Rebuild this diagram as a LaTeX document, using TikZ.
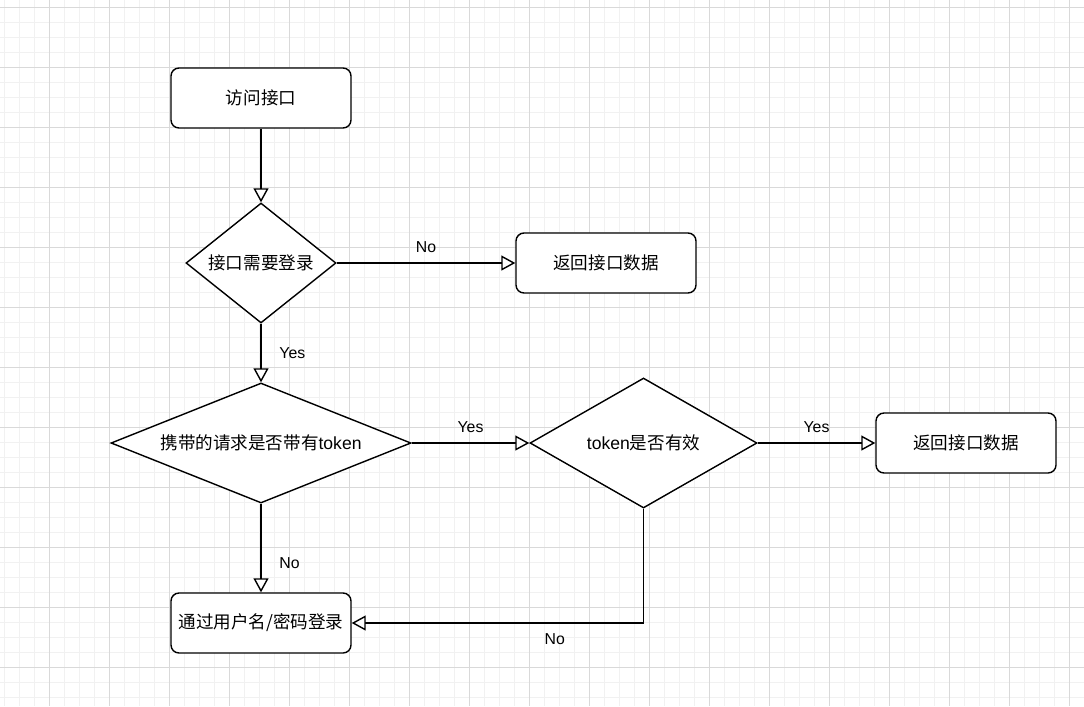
\documentclass[tikz,border=0pt]{standalone}
\usepackage{fontspec}
\setmainfont{Liberation Sans}
\newfontfamily\cjk{Noto Sans CJK SC}
\usetikzlibrary{shapes.geometric,arrows.meta}

\definecolor{minorgrid}{HTML}{F1F1F1}
\definecolor{majorgrid}{HTML}{D9D9D9}

\tikzset{
    procbox/.style={draw, line width=0.8pt, rounded corners=1.6mm, fill=white,
        minimum width=36mm, minimum height=12mm, inner sep=0pt,
        font=\fontsize{10}{12}\selectfont\cjk},
    decision/.style={draw, diamond, line width=0.8pt, fill=white, inner sep=0pt,
        font=\fontsize{10}{12}\selectfont},
    flow/.style={line width=0.8pt,
        -{Triangle[fill=white, length=2.8mm, width=3mm]}},
    edgelabel/.style={font=\fontsize{9}{11}\selectfont, inner sep=1pt},
}

\begin{document}
\begin{tikzpicture}[x=0.2mm, y=-0.2mm]
    \useasboundingbox (0,0) rectangle (1084,706);
    % Grid
    \fill[white] (0,0) rectangle (1084,706);
    \foreach \gx in {4,19,...,1084} \draw[minorgrid, line width=0.5pt] (\gx,0) -- (\gx,706);
    \foreach \gy in {7,22,...,697} \draw[minorgrid, line width=0.5pt] (0,\gy) -- (1084,\gy);
    \foreach \gx in {49,109,...,1069} \draw[majorgrid, line width=0.5pt] (\gx,0) -- (\gx,706);
    \foreach \gy in {7,67,...,667} \draw[majorgrid, line width=0.5pt] (0,\gy) -- (1084,\gy);

    % Steps and decisions
    \node[procbox] (visit) at (261,98) {访问接口};
    \node[decision, shape aspect=1.25, minimum width=30mm, minimum height=24mm]
        (needlogin) at (261,263) {{\cjk 接口需要登录}};
    \node[procbox] (retdata) at (606,263) {返回接口数据};
    \node[decision, shape aspect=2.5, minimum width=60mm, minimum height=24mm]
        (hastoken) at (261,443) {{\cjk 携带的请求是否带有}token};
    \node[decision, shape aspect=1.75, minimum width=45.4mm, minimum height=26mm]
        (tokenvalid) at (643.5,443) {token{\cjk 是否有效}};
    \node[procbox] (retdata2) at (966,443) {返回接口数据};
    \node[procbox] (pwdlogin) at (261,623) {通过用户名/密码登录};

    % Connectors
    \draw[flow] (visit) -- (needlogin);
    \draw[flow] (needlogin) -- node[edgelabel, above=1.6mm] {No} (retdata);
    \draw[flow] (needlogin) -- node[edgelabel, right=3.2mm] {Yes} (hastoken);
    \draw[flow] (hastoken) -- node[edgelabel, above=1.6mm] {Yes} (tokenvalid);
    \draw[flow] (tokenvalid) -- node[edgelabel, above=1.6mm] {Yes} (retdata2);
    \draw[flow] (hastoken) -- node[edgelabel, pos=0.67, right=3.2mm] {No} (pwdlogin);
    \draw[flow] (tokenvalid) |- node[edgelabel, pos=0.652, below=1.6mm] {No} (pwdlogin);
\end{tikzpicture}
\end{document}
